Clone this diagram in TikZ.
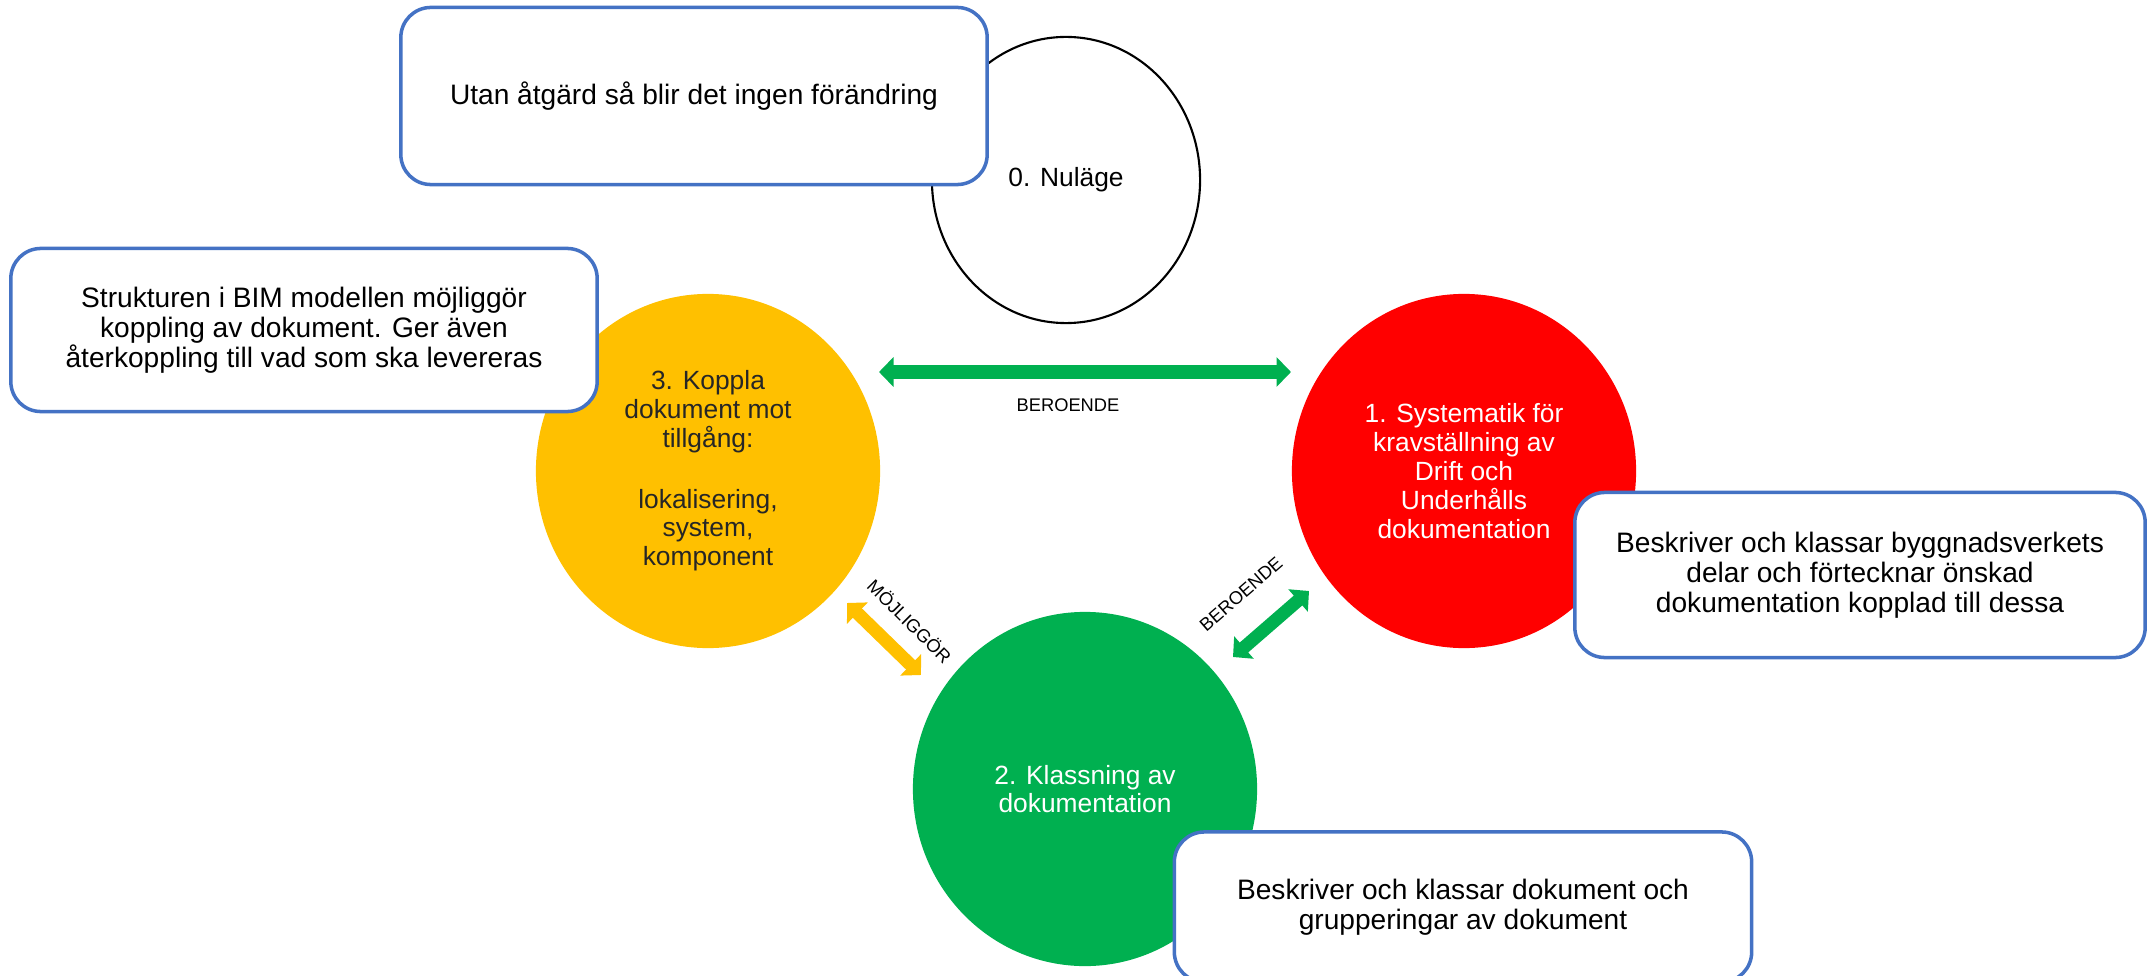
\documentclass[tikz,border=0pt]{standalone}
\usepackage{fontspec}
\setmainfont{Liberation Sans}
\usetikzlibrary{arrows.meta,shapes.geometric}
\definecolor{gul}{HTML}{FFC000}
\definecolor{gron}{HTML}{00B050}
\definecolor{rod}{HTML}{FF0000}
\definecolor{kantbla}{HTML}{4472C4}
\definecolor{morktext}{HTML}{262626}

\begin{document}
\begin{tikzpicture}[x=0.01cm, y=-0.01cm,
  fas/.style={ellipse, minimum width=3.44cm, minimum height=3.54cm, inner sep=0pt,
    align=center, font=\fontsize{7.5}{8.2}\selectfont},
  ruta/.style={draw=kantbla, line width=1pt, fill=white, rounded corners=0.3cm,
    align=center, inner sep=0pt, font=\fontsize{8}{8.5}\selectfont},
  pil/.style={line width=0.13cm,
    {Triangle[width=0.29cm,length=0.145cm]}-{Triangle[width=0.29cm,length=0.145cm]}},
  etikett/.style={font=\fontsize{5.2}{6}\selectfont, inner sep=0pt}]
\useasboundingbox (0,0) rectangle (2148,976);

  % phases
  \node[fas, draw=black, line width=0.6pt, fill=white, minimum width=2.68cm,
    minimum height=2.86cm] (nulage) at (1066,180) {0. Nuläge}; % 0
  \node[fas, fill=gul, text=morktext] (koppla) at (708,471)
    {3. Koppla\\dokument mot\\tillgång:\\[9pt]lokalisering,\\system,\\komponent}; % 3
  \node[fas, fill=rod, text=white] (systematik) at (1464,471)
    {1. Systematik för\\kravställning av\\Drift och\\Underhålls\\dokumentation}; % 1
  \node[fas, fill=gron, text=white] (klassning) at (1085,789)
    {2. Klassning av\\dokumentation}; % 2

  % comments
  \node[ruta, minimum width=5.86cm, minimum height=1.77cm] (nolla) at (694,96)
    {Utan åtgärd så blir det ingen förändring};
  \node[ruta, minimum width=5.86cm, minimum height=1.63cm] (bim) at (304,330)
    {Strukturen i BIM modellen möjliggör\\koppling av dokument. Ger även\\återkoppling till vad som ska levereras};
  \node[ruta, minimum width=5.70cm, minimum height=1.65cm] (delar) at (1860,575)
    {Beskriver och klassar byggnadsverkets\\delar och förtecknar önskad\\dokumentation kopplad till dessa};
  \node[ruta, minimum width=5.77cm, minimum height=1.50cm] (dokument) at (1463,907)
    {Beskriver och klassar dokument och\\grupperingar av dokument};

  % arrows
  \coordinate (h1) at (879,372); % 3 <-> 1
  \coordinate (h2) at (1291,372);
  \coordinate (m1) at (847,603); % 3 <-> 2
  \coordinate (m2) at (921,675);
  \coordinate (b1) at (1233,657); % 2 <-> 1
  \coordinate (b2) at (1309,591);
  \draw[pil, gron] (h1) -- (h2);
  \draw[pil, gul] (m1) -- (m2);
  \draw[pil, gron] (b1) -- (b2);
  \node[etikett] (beroende1) at (1068,405) {BEROENDE};
  \node[etikett, rotate=-45] (mojliggor) at (910,621) {MÖJLIGGÖR};
  \node[etikett, rotate=41] (beroende2) at (1241,594) {BEROENDE};
\end{tikzpicture}
\end{document}
